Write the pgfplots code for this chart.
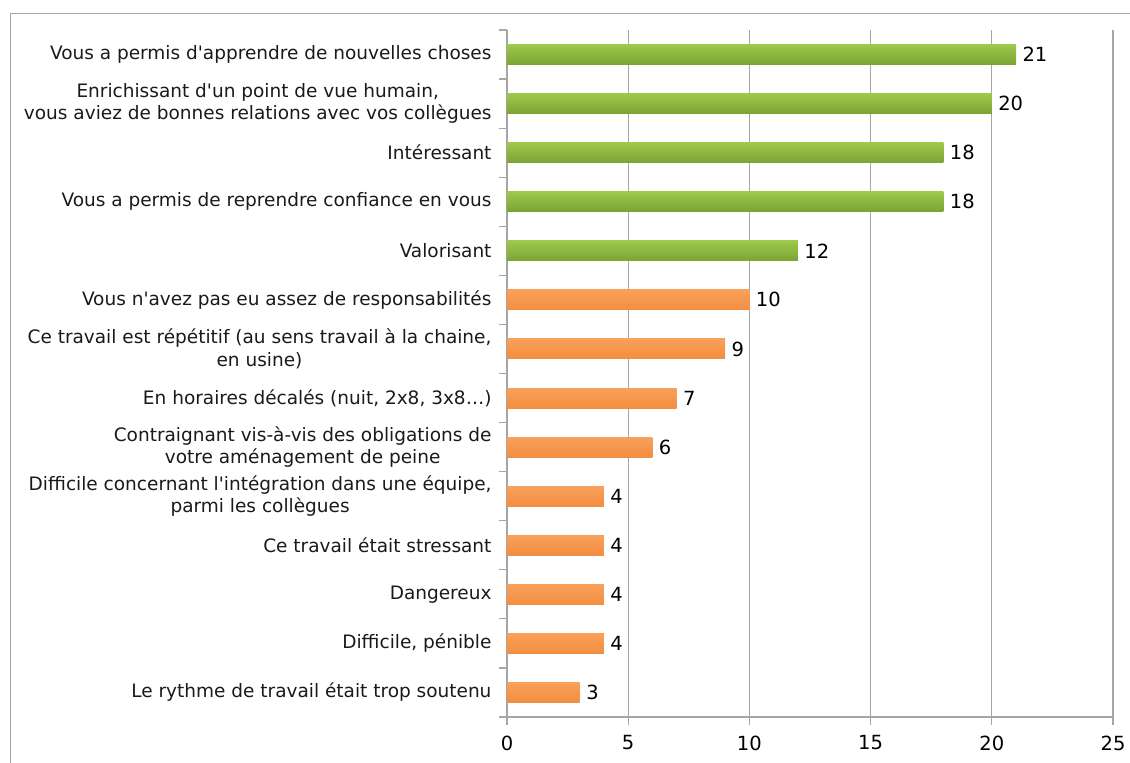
\documentclass[border=0pt]{standalone}
\usepackage{fontspec}
\setmainfont{DejaVu Sans}[Ligatures=TeXOff]
\usepackage{pgfplots}
\pgfplotsset{compat=1.18}
\definecolor{gtop}{HTML}{9DC94C}
\definecolor{gbot}{HTML}{7BA333}
\definecolor{otop}{HTML}{F9A05A}
\definecolor{obot}{HTML}{F28E40}
\definecolor{gridc}{HTML}{A6A6A6}
\definecolor{labc}{HTML}{1A1A1A}
\begin{document}
\begin{tikzpicture}[x=1pt,y=1pt]
\useasboundingbox (0,0) rectangle (1130,763);
\draw[gridc, line width=1pt] (10.5,0) -- (10.5,749.5) -- (1130,749.5);
\begin{axis}[
  at={(507pt,46pt)}, anchor=south west,
  scale only axis, width=606pt, height=687pt,
  xmin=0, xmax=25, ymin=-0.5, ymax=13.5,
  axis x line*=bottom, axis y line*=left,
  axis line style={gridc, line width=1.2pt},
  xmajorgrids, grid style={gridc, line width=1.2pt},
  xtick={0,5,...,25},
  tick align=outside, major tick length=8pt,
  tick style={gridc, line width=1.2pt},
  ytick={-0.5,0.5,...,13.5}, yticklabels={},
  extra y ticks={0,1,...,13},
  extra y tick labels={
    Le rythme de travail était trop soutenu,
    {Difficile, pénible},
    Dangereux,
    Ce travail était stressant,
    {Difficile concernant l'intégration dans une équipe,\\parmi les collègues},
    {Contraignant vis-à-vis des obligations de\\votre aménagement de peine},
    {En horaires décalés (nuit, 2x8, 3x8…)},
    {Ce travail est répétitif (au sens travail à la chaine,\\en usine)},
    Vous n'avez pas eu assez de responsabilités,
    Valorisant,
    Vous a permis de reprendre confiance en vous,
    Intéressant,
    {Enrichissant d'un point de vue humain,\\vous aviez de bonnes relations avec vos collègues},
    Vous a permis d'apprendre de nouvelles choses},
  extra y tick style={major tick length=0pt, tick style={draw=none},
    yticklabel style={align=center, font=\fontsize{18.5}{22.5}\selectfont, text=labc, xshift=-12pt}},
  xticklabel style={font=\fontsize{19.5}{19.5}\selectfont, text=black, yshift=-7pt},
  /pgf/number format/assume math mode=true,
  point meta=x,
  nodes near coords,
  every node near coord/.append style={font=\fontsize{19.5}{19.5}\selectfont, text=black, anchor=west, xshift=3pt},
  clip=false,
  gbar/.style={xbar, bar width=20pt, bar shift=0pt, draw=none, top color=gtop, bottom color=gbot},
  obar/.style={xbar, bar width=20pt, bar shift=0pt, draw=none, top color=otop, bottom color=obot},
]
\addplot[gbar] coordinates {(21,13)};
\addplot[gbar] coordinates {(20,12)};
\addplot[gbar] coordinates {(18,11)};
\addplot[gbar] coordinates {(18,10)};
\addplot[gbar] coordinates {(12,9)};
\addplot[obar] coordinates {(10,8)};
\addplot[obar] coordinates {(9,7)};
\addplot[obar] coordinates {(7,6)};
\addplot[obar] coordinates {(6,5)};
\addplot[obar] coordinates {(4,4)};
\addplot[obar] coordinates {(4,3)};
\addplot[obar] coordinates {(4,2)};
\addplot[obar] coordinates {(4,1)};
\addplot[obar] coordinates {(3,0)};
\end{axis}
\end{tikzpicture}
\end{document}
